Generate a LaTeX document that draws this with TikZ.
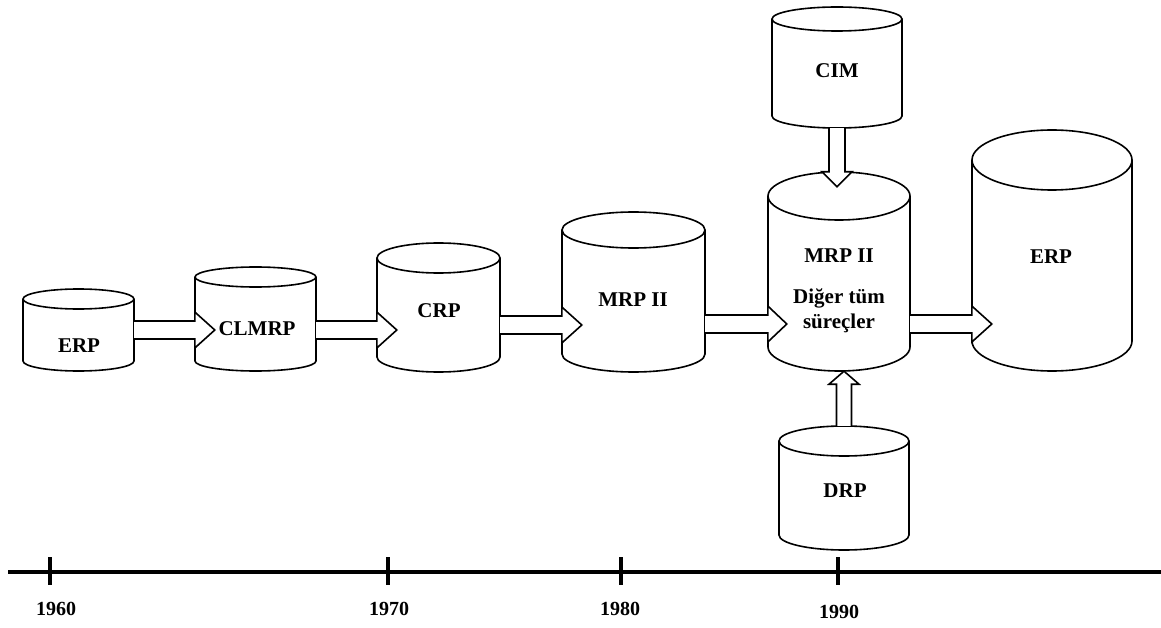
\documentclass[tikz,border=0pt]{standalone}
\usepackage{fontspec}
\setmainfont{Liberation Serif}
\usetikzlibrary{calc}
\tikzset{
 cylline/.style={line width=1.6pt},
 arr/.style={line width=1.6pt, fill=white, line join=miter},
 lbl/.style={font=\fontsize{21}{25}\selectfont\bfseries, inner sep=0pt, anchor=base},
 yr/.style={font=\fontsize{20}{24}\selectfont\bfseries, inner sep=0pt, anchor=base},
 axis/.style={line width=3.5pt},
}
% #1 name, #2 left x, #3 right x, #4 top y, #5 bottom y, #6 ellipse y-radius
\newcommand\mycyl[6]{%
 \pgfmathsetmacro\cx{(#2+#3)/2}\pgfmathsetmacro\rx{(#3-#2)/2}%
 \pgfmathsetmacro\yt{#4+#6}\pgfmathsetmacro\yb{#5-#6}%
 \pgfmathsetmacro\kk{0.5523*#6}\pgfmathsetmacro\kx{0.5523*\rx}%
 \pgfmathsetmacro\ybk{\yb+\kk}\pgfmathsetmacro\cxl{\cx-\kx}\pgfmathsetmacro\cxr{\cx+\kx}%
 \draw[cylline] (#2,\yt) -- (#2,\yb) .. controls (#2,\ybk) and (\cxl,#5) .. (\cx,#5)
   .. controls (\cxr,#5) and (#3,\ybk) .. (#3,\yb) -- (#3,\yt);
 \draw[cylline] (\cx,\yt) ellipse [x radius=\rx, y radius=#6];
 \node[inner sep=0pt, minimum width={(#3-#2)*1pt}, minimum height={(#5-#4)*1pt}] (#1) at (\cx,{(#4+#5)/2}) {};
}
% #1 start, #2 tip, #3 half shaft, #4 half head, #5 head length
\newcommand\myarrow[5]{%
 \coordinate (ba-b) at ($(#2)!#5!(#1)$);
 \draw[arr] ($(#1)!#3!90:(#2)$) -- ($(ba-b)!#3!90:(#2)$) -- ($(ba-b)!#4!90:(#2)$) -- (#2)
   -- ($(ba-b)!#4!-90:(#2)$) -- ($(ba-b)!#3!-90:(#2)$) -- ($(#1)!#3!-90:(#2)$);
}
\begin{document}
\begin{tikzpicture}[x=1pt,y=-1pt]
\useasboundingbox (0,0) rectangle (1161,628);
% cylinders
\mycyl{erp1}{23}{134}{289}{371}{10}
\mycyl{clmrp}{195}{316}{267}{371}{10}
\mycyl{crp}{377}{500}{243}{372}{15}
\mycyl{mrp1}{562}{705}{212}{372}{18}
\mycyl{cim}{772}{902}{7}{128}{12}
\mycyl{mrp2}{768}{910}{172}{371}{24}
\mycyl{erp2}{972}{1132}{130}{371}{30}
\mycyl{drp}{779}{909}{426}{550}{15}
% arrows
\coordinate (r1) at (0,330);
\coordinate (r2) at (0,325);
\coordinate (r3) at (0,324);
\coordinate (a1s) at (erp1.east |- r1);
\coordinate (a1t) at ($(clmrp.west |- r1)+(20,0)$);
\myarrow{a1s}{a1t}{9pt}{18pt}{20pt}
\coordinate (a2s) at (clmrp.east |- r1);
\coordinate (a2t) at ($(crp.west |- r1)+(20,0)$);
\myarrow{a2s}{a2t}{9pt}{18pt}{20pt}
\coordinate (a3s) at (crp.east |- r2);
\coordinate (a3t) at ($(mrp1.west |- r2)+(20,0)$);
\myarrow{a3s}{a3t}{9pt}{18pt}{20pt}
\coordinate (a4s) at (mrp1.east |- r3);
\coordinate (a4t) at ($(mrp2.west |- r3)+(19,0)$);
\myarrow{a4s}{a4t}{9pt}{18pt}{19pt}
\coordinate (a5s) at (mrp2.east |- r3);
\coordinate (a5t) at ($(erp2.west |- r3)+(20,0)$);
\myarrow{a5s}{a5t}{9pt}{18pt}{20pt}
\coordinate (a6s) at (cim.south);
\coordinate (a6t) at ($(cim.south |- mrp2.north)+(0,15)$);
\myarrow{a6s}{a6t}{8pt}{15pt}{15pt}
\coordinate (a7s) at (drp.north);
\coordinate (a7t) at (drp.north |- mrp2.south);
\myarrow{a7s}{a7t}{7.5pt}{15pt}{13pt}
% labels
\node[lbl] (l-erp1) at (79,352) {ERP};
\node[lbl] (l-clmrp) at (257,335) {CLMRP};
\node[lbl] (l-crp) at (439,317) {CRP};
\node[lbl] (l-mrp1) at (633,306) {MRP II};
\node[lbl] (l-cim) at (837,78) {CIM};
\node[lbl] (l-mrp2) at (839,262) {MRP II};
\node[lbl] (l-diger) at (839,303) {Diğer tüm};
\node[lbl] (l-surec) at (839,328) {süreçler};
\node[lbl] (l-erp2) at (1051,263) {ERP};
\node[lbl] (l-drp) at (845,497) {DRP};
% timeline
\coordinate (tl0) at (8,572);
\coordinate (tl1) at (1161,572);
\draw[axis] (tl0) -- (tl1);
\foreach \x in {50,388,621,838} \draw[axis] (\x,557) -- (\x,585);
\node[yr] (y1960) at (56,615) {1960};
\node[yr] (y1970) at (389,615) {1970};
\node[yr] (y1980) at (620,615) {1980};
\node[yr] (y1990) at (839,618) {1990};
\end{tikzpicture}
\end{document}
